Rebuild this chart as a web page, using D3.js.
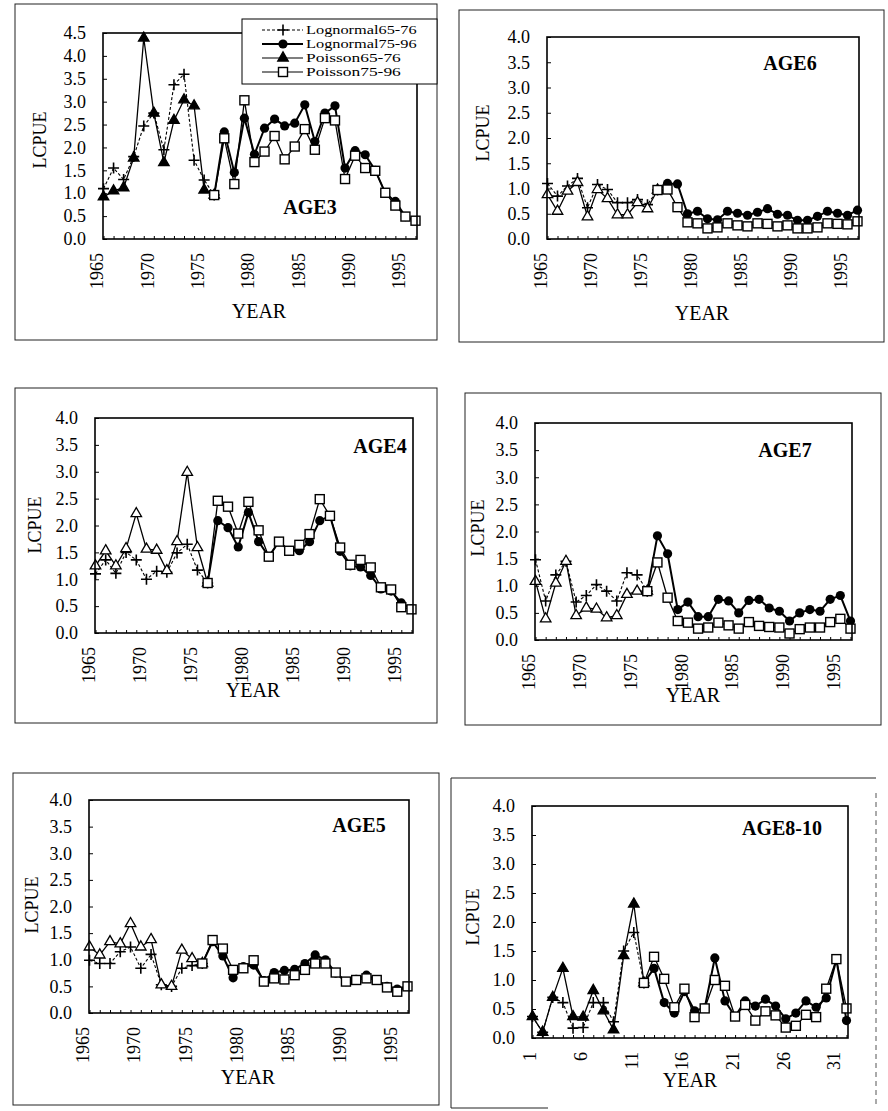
<!DOCTYPE html>
<html><head><meta charset="utf-8">
<script src="https://cdn.jsdelivr.net/npm/d3@7"></script>
<style>
html,body{margin:0;padding:0;background:#fff}
svg{display:block}
svg text{font-family:"Liberation Serif","Times New Roman",serif !important;fill:#000}
</style>
</head><body>
<svg id="c" width="888" height="1111"></svg>
<script>
// ---------- categories / ticks ----------
const YEARS_65_76 = [1966,1967,1968,1969,1970,1971,1972,1973,1974,1975,1976,1977];
const YEARS_75_96 = [1977,1978,1979,1980,1981,1982,1983,1984,1985,1986,1987,1988,1989,1990,1991,1992,1993,1994,1995,1996,1997];
const CATS_65_76 = [1,2,3,4,5,6,7,8,9,10,11,12];
const CATS_75_96 = [12,13,14,15,16,17,18,19,20,21,22,23,24,25,26,27,28,29,30,31,32];
const YEAR_TICKS = [1965,1970,1975,1980,1985,1990,1995];
const CAT_TICKS = [1,6,11,16,21,26,31];
const Y_TICKS_45 = [0,0.5,1,1.5,2,2.5,3,3.5,4,4.5];
const Y_TICKS_40 = [0,0.5,1,1.5,2,2.5,3,3.5,4];
const SERIES_NAMES = ["Lognormal65-76","Lognormal75-96","Poisson65-76","Poisson75-96"];

// ---------- AGE3 ----------
const age3_logn65 = [1.1,1.55,1.3,1.8,2.47,2.75,1.95,3.37,3.6,1.72,1.29,0.96];
const age3_pois65 = [0.92,1.05,1.12,1.77,4.39,2.75,1.67,2.59,3.04,2.91,1.07,0.96];
const age3_logn75 = [0.96,2.34,1.45,2.64,1.85,2.42,2.62,2.47,2.53,2.93,2.13,2.75,2.91,1.55,1.93,1.84,1.5,1.0,0.82,0.49,0.4];
const age3_pois75 = [0.96,2.2,1.2,3.03,1.68,1.91,2.25,1.74,2.02,2.4,1.95,2.64,2.59,1.31,1.82,1.55,1.49,1.01,0.73,0.49,0.4];
// ---------- AGE6 ----------
const age6_logn65 = [1.1,0.85,1.05,1.2,0.62,1.08,0.98,0.72,0.72,0.78,0.68,0.97];
const age6_pois65 = [0.88,0.55,0.95,1.12,0.44,0.98,0.8,0.48,0.48,0.72,0.6,0.97];
const age6_logn75 = [0.97,1.1,1.09,0.5,0.55,0.4,0.38,0.55,0.51,0.47,0.53,0.6,0.49,0.47,0.37,0.37,0.45,0.55,0.51,0.47,0.57];
const age6_pois75 = [0.97,0.98,0.63,0.33,0.31,0.21,0.23,0.31,0.27,0.25,0.31,0.3,0.25,0.27,0.21,0.21,0.23,0.31,0.3,0.29,0.35];
// ---------- AGE4 ----------
const age4_logn65 = [1.1,1.36,1.11,1.5,1.36,1.0,1.15,1.13,1.49,1.65,1.17,0.93];
const age4_pois65 = [1.25,1.53,1.25,1.57,2.22,1.56,1.54,1.16,1.7,2.99,1.59,0.93];
const age4_logn75 = [0.93,2.09,1.96,1.6,2.24,1.7,1.42,1.7,1.53,1.53,1.7,2.09,2.18,1.52,1.25,1.23,1.07,0.82,0.78,0.56,0.45];
const age4_pois75 = [0.93,2.46,2.35,1.85,2.44,1.91,1.42,1.7,1.53,1.64,1.84,2.49,2.18,1.59,1.27,1.36,1.22,0.85,0.81,0.48,0.44];
// ---------- AGE7 ----------
const age7_logn65 = [1.48,0.72,1.2,1.45,0.7,0.82,1.02,0.9,0.72,1.24,1.2,0.9];
const age7_pois65 = [1.08,0.39,1.05,1.45,0.45,0.59,0.57,0.41,0.45,0.84,0.9,0.9];
const age7_logn75 = [0.9,1.92,1.59,0.56,0.7,0.43,0.43,0.75,0.72,0.5,0.73,0.75,0.59,0.53,0.35,0.5,0.56,0.53,0.75,0.82,0.35];
const age7_pois75 = [0.9,1.43,0.78,0.35,0.32,0.21,0.23,0.32,0.27,0.21,0.33,0.26,0.24,0.23,0.12,0.2,0.23,0.23,0.33,0.39,0.21];
// ---------- AGE5 ----------
const age5_logn65 = [0.99,0.93,0.93,1.15,1.24,0.84,1.1,0.53,0.5,0.84,0.89,0.93];
const age5_pois65 = [1.24,1.09,1.34,1.3,1.68,1.24,1.38,0.53,0.5,1.18,1.02,0.93];
const age5_logn75 = [0.93,1.34,1.07,0.66,0.87,0.9,0.61,0.76,0.8,0.82,0.93,1.09,1.0,0.75,0.59,0.63,0.71,0.62,0.5,0.45,0.5];
const age5_pois75 = [0.93,1.37,1.21,0.81,0.84,0.99,0.59,0.65,0.63,0.71,0.81,0.93,0.93,0.76,0.59,0.62,0.65,0.62,0.48,0.4,0.5];
// ---------- AGE8-10 ----------
const age810_logn65 = [0.37,0.1,0.7,0.61,0.17,0.18,0.61,0.61,0.28,1.5,1.82,0.95];
const age810_pois65 = [0.37,0.1,0.7,1.2,0.37,0.36,0.82,0.47,0.14,1.42,2.31,0.95];
const age810_logn75 = [0.95,1.2,0.61,0.43,0.8,0.47,0.52,1.38,0.64,0.37,0.64,0.55,0.67,0.55,0.33,0.43,0.64,0.53,0.69,1.35,0.3];
const age810_pois75 = [0.95,1.4,1.02,0.53,0.85,0.36,0.51,1.0,0.9,0.37,0.57,0.3,0.46,0.39,0.18,0.21,0.4,0.36,0.85,1.36,0.51];

// ---------- layout (positions only) ----------
const panels = [
  {title:"AGE3", d:[age3_logn65,age3_logn75,age3_pois65,age3_pois75], x65:YEARS_65_76, x75:YEARS_75_96,
   xTicks:YEAR_TICKS, xDomain:[1966,1997], yTicks:Y_TICKS_45, yMax:4.5, openTri:false, legend:true,
   box:[15,4,437,340], plot:[103,33,417,239], tX:310, tY:214, yLX:40, yLY:140, xLX:259, xLY:318, lblDx:3},
  {title:"AGE6", d:[age6_logn65,age6_logn75,age6_pois65,age6_pois75], x65:YEARS_65_76, x75:YEARS_75_96,
   xTicks:YEAR_TICKS, xDomain:[1966,1997], yTicks:Y_TICKS_40, yMax:4, openTri:true,
   box:[459,10,884,342], plot:[547,37,859,239], tX:790, tY:70, yLX:483, yLY:133, xLX:702, xLY:320, lblDx:3},
  {title:"AGE4", d:[age4_logn65,age4_logn75,age4_pois65,age4_pois75], x65:YEARS_65_76, x75:YEARS_75_96,
   xTicks:YEAR_TICKS, xDomain:[1966,1997], yTicks:Y_TICKS_40, yMax:4, openTri:true,
   box:[15,388,437,723], plot:[95,418,413,633], tX:380, tY:453, yLX:35, yLY:525, xLX:253, xLY:697, lblDx:3},
  {title:"AGE7", d:[age7_logn65,age7_logn75,age7_pois65,age7_pois75], x65:YEARS_65_76, x75:YEARS_75_96,
   xTicks:YEAR_TICKS, xDomain:[1966,1997], yTicks:Y_TICKS_40, yMax:4, openTri:true,
   box:[465,393,881,725], plot:[535,423,852,640], tX:785, tY:457, yLX:478, yLY:528, xLX:693, xLY:702, lblDx:3},
  {title:"AGE5", d:[age5_logn65,age5_logn75,age5_pois65,age5_pois75], x65:YEARS_65_76, x75:YEARS_75_96,
   xTicks:YEAR_TICKS, xDomain:[1966,1997], yTicks:Y_TICKS_40, yMax:4, openTri:true,
   box:[13,773,439,1105], plot:[89,800,409,1013], tX:359, tY:832, yLX:32, yLY:905, xLX:248, xLY:1084, lblDx:3},
  {title:"AGE8-10", d:[age810_logn65,age810_logn75,age810_pois65,age810_pois75], x65:CATS_65_76, x75:CATS_75_96,
   xTicks:CAT_TICKS, xDomain:[1,32], yTicks:Y_TICKS_40, yMax:4, openTri:false, partialBox:true,
   box:[451,778,876,1108], plot:[532,806,848,1038], tX:782, tY:835, yLX:473, yLY:917, xLX:690, xLY:1087, lblDx:-3}
];

const FONT = '"Liberation Serif","Times New Roman",serif';
const svg = d3.select("#c");
svg.append("rect").attr("width",888).attr("height",1111).attr("fill","#fff");

const triPath = d3.symbol().type(d3.symbolTriangle).size(48)();
function drawMarker(sel, kind, openTri){
  if(kind==="plus"){
    sel.append("path").attr("d","M-5.5,0H5.5M0,-5.5V5.5").attr("stroke","#000").attr("stroke-width",1.6).attr("fill","none");
  } else if(kind==="circle"){
    sel.append("circle").attr("r",4.6).attr("fill","#000");
  } else if(kind==="tri"){
    sel.append("path").attr("d",triPath).attr("fill",openTri?"#fff":"#000").attr("stroke","#000").attr("stroke-width",1.3);
  } else {
    sel.append("rect").attr("x",-4.5).attr("y",-4.5).attr("width",9).attr("height",9)
      .attr("fill","#fff").attr("stroke","#000").attr("stroke-width",1.4);
  }
}

panels.forEach(p=>{
  const g = svg.append("g").style("font-family", FONT);
  const [bx0,by0,bx1,by1] = p.box;
  if(p.partialBox){
    g.append("path").attr("d",`M${bx0},${by1}V${by0}H${bx1}`).attr("fill","none").attr("stroke","#222").attr("stroke-width",1);
    g.append("line").attr("x1",bx0).attr("x2",bx0+97).attr("y1",by1).attr("y2",by1).attr("stroke","#222").attr("stroke-width",1);
    g.append("line").attr("x1",bx1).attr("x2",bx1).attr("y1",by0+15).attr("y2",by1).attr("stroke","#555")
      .attr("stroke-width",1).attr("stroke-dasharray","5,4");
  } else {
    g.append("rect").attr("x",bx0).attr("y",by0).attr("width",bx1-bx0).attr("height",by1-by0)
      .attr("fill","none").attr("stroke","#222").attr("stroke-width",1);
  }
  const [l,t,r,b] = p.plot;
  const x = d3.scaleLinear().domain(p.xDomain).range([l+0.5, r-1.5]);
  const y = d3.scaleLinear().domain([0,p.yMax]).range([b,t]);

  // y axis (inside ticks, labels)
  const ya = g.append("g").attr("transform",`translate(${l},0)`)
    .call(d3.axisLeft(y).tickValues(p.yTicks).tickSizeInner(-4).tickSizeOuter(0).tickPadding(17).tickFormat(d3.format(".1f")));
  ya.attr("font-family", null).style("font-family", FONT);
  ya.select(".domain").remove();
  ya.selectAll("line").attr("stroke","#000").attr("stroke-width",1);
  ya.selectAll("text").attr("font-size",18).style("font-family",FONT).attr("fill","#000");

  // x minor ticks (every category)
  const minor = d3.range(p.xDomain[0], p.xDomain[1]+1);
  const xm = g.append("g").attr("transform",`translate(0,${b})`)
    .call(d3.axisBottom(x).tickValues(minor).tickSizeInner(-3).tickSizeOuter(0).tickFormat(""));
  xm.select(".domain").remove();
  xm.selectAll("line").attr("stroke","#000").attr("stroke-width",1);

  // x labels
  const xl = g.append("g").attr("transform",`translate(0,${b})`)
    .call(d3.axisBottom(x).tickValues(p.xTicks).tickSize(0).tickFormat(d=>String(d)));
  xl.attr("font-family", null).style("font-family", FONT);
  xl.select(".domain").remove();
  xl.selectAll("text").attr("transform","rotate(-90)").attr("text-anchor","end")
    .attr("x",-14).attr("y",p.lblDx).attr("dy","0.35em")
    .attr("font-size",18).style("font-family",FONT).attr("fill","#000");

  // lines
  const line = (xs)=>d3.line().x((v,i)=>x(xs[i])).y(v=>y(v));
  const [ln65, ln75, ps65, ps75] = p.d;
  g.append("path").attr("d",line(p.x65)(ln65)).attr("fill","none").attr("stroke","#000").attr("stroke-width",1.1).attr("stroke-dasharray","3,2");
  g.append("path").attr("d",line(p.x65)(ps65)).attr("fill","none").attr("stroke","#000").attr("stroke-width",1.3);
  g.append("path").attr("d",line(p.x75)(ln75)).attr("fill","none").attr("stroke","#000").attr("stroke-width",2);
  g.append("path").attr("d",line(p.x75)(ps75)).attr("fill","none").attr("stroke","#000").attr("stroke-width",1.3);

  // markers
  const mk = (vals, xs, kind)=>{
    g.append("g").selectAll("g").data(vals).join("g")
      .attr("transform",(v,i)=>`translate(${x(xs[i])},${y(v)})`)
      .each(function(){ drawMarker(d3.select(this), kind, p.openTri); });
  };
  mk(ln65, p.x65, "plus");
  mk(ln75, p.x75, "circle");
  mk(ps65, p.x65, "tri");
  mk(ps75, p.x75, "square");

  // plot frame
  g.append("rect").attr("x",l).attr("y",t).attr("width",r-l).attr("height",b-t)
    .attr("fill","none").attr("stroke","#000").attr("stroke-width",1.6);

  // titles
  g.append("text").attr("x",p.tX).attr("y",p.tY).attr("text-anchor","middle")
    .attr("font-size",20).attr("font-weight","bold").text(p.title);
  g.append("text").attr("transform",`translate(${p.yLX},${p.yLY}) rotate(-90)`).attr("text-anchor","middle")
    .attr("dy","0.35em").attr("font-size",18).text("LCPUE");
  g.append("text").attr("x",p.xLX).attr("y",p.xLY).attr("text-anchor","middle")
    .attr("font-size",20).text("YEAR");

  // legend
  if(p.legend){
    const lg = g.append("g");
    lg.append("rect").attr("x",242).attr("y",19).attr("width",195).attr("height",65)
      .attr("fill","#fff").attr("stroke","#000").attr("stroke-width",1);
    const kinds = ["plus","circle","tri","square"];
    const rowY = [30,44,58,72];
    SERIES_NAMES.forEach((name,i)=>{
      const row = lg.append("g").attr("transform",`translate(0,${rowY[i]})`);
      row.append("line").attr("x1",262).attr("x2",303).attr("y1",0).attr("y2",0)
        .attr("stroke","#000").attr("stroke-width",i===1?1.8:1.1).attr("stroke-dasharray",i===0?"3,2":null);
      const m = row.append("g").attr("transform","translate(283,0)");
      drawMarker(m, kinds[i], false);
      row.append("text").attr("x",306).attr("y",0).attr("dy","0.35em").attr("font-size",12)
        .attr("textLength", name.length*7.9).attr("lengthAdjust","spacingAndGlyphs").text(name);
    });
  }
});
</script>
</body></html>
